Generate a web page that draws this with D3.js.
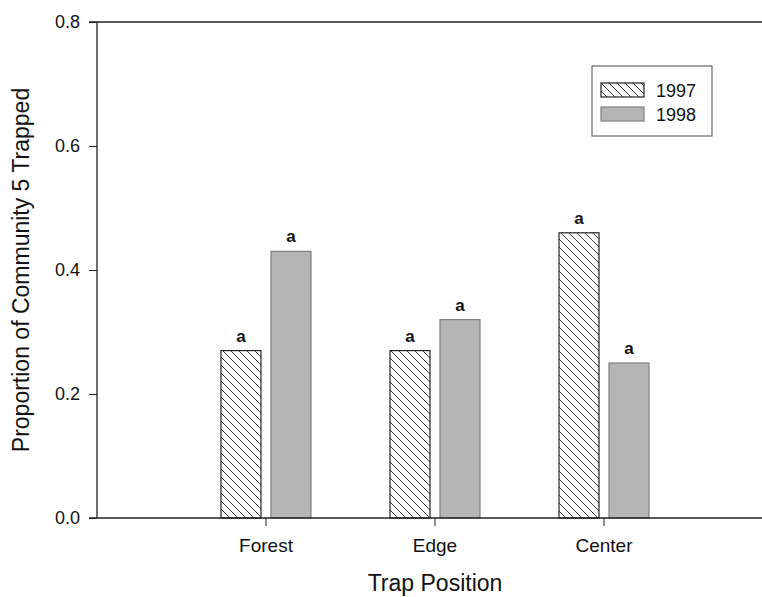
<!DOCTYPE html>
<html>
<head>
<meta charset="utf-8">
<script src="https://cdn.jsdelivr.net/npm/d3@7"></script>
<style>
  body { margin: 0; background: #fff; }
  svg { font-family: Arial, "Liberation Sans", sans-serif; }
</style>
</head>
<body>
<svg id="chart" width="762" height="597"></svg>
<script>
const categories = ['Forest', 'Edge', 'Center'];
const years = ['1997', '1998'];
const values1997 = [0.27, 0.27, 0.46];
const values1998 = [0.43, 0.32, 0.25];
const letters1997 = ['a', 'a', 'a'];
const letters1998 = ['a', 'a', 'a'];
const yTicks = [0.0, 0.2, 0.4, 0.6, 0.8];

const svg = d3.select('#chart');

const plot = { left: 97, right: 773, top: 22, bottom: 518 };

const yScale = d3.scaleLinear().domain([0, 0.8]).range([plot.bottom, plot.top]);

// four equal slots from 0..4, categories sit at 1,2,3
const slot = (plot.right - plot.left) / 4;
const xScale = d3.scaleBand()
  .domain(categories)
  .range([plot.left + slot / 2, plot.right - slot / 2])
  .padding(0);

const bw = xScale.bandwidth();
const x1 = d3.scaleBand()
  .domain(years)
  .range([bw / 2 - 45, bw / 2 + 45])
  .paddingInner(0.2)
  .paddingOuter(0);

// hatch pattern for 1997
const defs = svg.append('defs');
const pat = defs.append('pattern')
  .attr('id', 'hatch')
  .attr('patternUnits', 'userSpaceOnUse')
  .attr('width', 8)
  .attr('height', 8);
pat.append('rect').attr('width', 8).attr('height', 8).attr('fill', '#fff');
pat.append('path')
  .attr('d', 'M-2,-2 L10,10 M-2,6 L2,10 M6,-2 L10,2')
  .attr('stroke', '#222')
  .attr('stroke-width', 0.9);

const series = [
  { year: '1997', values: values1997, letters: letters1997, fill: 'url(#hatch)', stroke: '#222' },
  { year: '1998', values: values1998, letters: letters1998, fill: '#b5b5b5', stroke: '#808080' }
];

const g = svg.append('g');

series.forEach((s) => {
  categories.forEach((c, i) => {
    const x = xScale(c) + x1(s.year);
    const y = yScale(s.values[i]);
    g.append('rect')
      .attr('x', x)
      .attr('y', y)
      .attr('width', x1.bandwidth())
      .attr('height', yScale(0) - y)
      .attr('fill', s.fill)
      .attr('stroke', s.stroke)
      .attr('stroke-width', 1.2);

    g.append('text')
      .attr('x', x + x1.bandwidth() / 2)
      .attr('y', y - 9)
      .attr('text-anchor', 'middle')
      .attr('font-size', 17)
      .attr('font-weight', 'bold')
      .attr('fill', '#111')
      .text(s.letters[i]);
  });
});

// axes
const yAxis = d3.axisLeft(yScale)
  .tickValues(yTicks)
  .tickFormat(d3.format('.1f'))
  .tickSize(8)
  .tickPadding(9);

const yG = svg.append('g')
  .attr('transform', `translate(${plot.left},0)`)
  .call(yAxis);
yG.select('.domain').remove();
yG.selectAll('text').attr('font-size', 18).attr('fill', '#111');
yG.selectAll('line').attr('stroke', '#222');

const xAxis = d3.axisBottom(xScale).tickSize(8).tickPadding(13);
const xG = svg.append('g')
  .attr('transform', `translate(0,${plot.bottom})`)
  .call(xAxis);
xG.select('.domain').remove();
xG.selectAll('text').attr('font-size', 19).attr('fill', '#111');
xG.selectAll('line').attr('stroke', '#222');

// frame lines: left, top, bottom
svg.append('line')
  .attr('x1', plot.left).attr('y1', plot.top).attr('x2', plot.left).attr('y2', plot.bottom)
  .attr('stroke', '#222').attr('stroke-width', 1.3);
svg.append('line')
  .attr('x1', plot.left - 8).attr('y1', plot.top).attr('x2', 762).attr('y2', plot.top)
  .attr('stroke', '#222').attr('stroke-width', 1.3);
svg.append('line')
  .attr('x1', plot.left - 8).attr('y1', plot.bottom).attr('x2', 762).attr('y2', plot.bottom)
  .attr('stroke', '#222').attr('stroke-width', 1.3);

// axis titles
svg.append('text')
  .attr('transform', `translate(29,${(plot.top + plot.bottom) / 2}) rotate(-90)`)
  .attr('text-anchor', 'middle')
  .attr('font-size', 23)
  .attr('fill', '#111')
  .text('Proportion of Community 5 Trapped');

svg.append('text')
  .attr('x', xScale('Edge') + bw / 2)
  .attr('y', 591)
  .attr('text-anchor', 'middle')
  .attr('font-size', 23)
  .attr('fill', '#111')
  .text('Trap Position');

// legend
const legend = svg.append('g').attr('transform', 'translate(592,66)');
legend.append('rect')
  .attr('width', 120).attr('height', 70)
  .attr('fill', '#fff').attr('stroke', '#444').attr('stroke-width', 1);

series.forEach((s, i) => {
  const ly = 17 + i * 24;
  legend.append('rect')
    .attr('x', 9).attr('y', ly)
    .attr('width', 43).attr('height', 14)
    .attr('fill', s.fill).attr('stroke', s.stroke).attr('stroke-width', 1.2);
  legend.append('text')
    .attr('x', 64).attr('y', ly + 14)
    .attr('font-size', 18)
    .attr('fill', '#111')
    .text(s.year);
});
</script>
</body>
</html>
